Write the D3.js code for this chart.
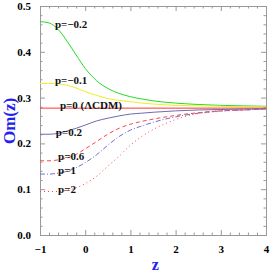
<!DOCTYPE html>
<html>
<head>
<meta charset="utf-8">
<script src="https://cdn.jsdelivr.net/npm/d3@7"></script>
<style>
  body { margin: 0; background: #fff; }
  svg { display: block; }
</style>
</head>
<body>
<svg id="chart"></svg>
<script>
const zs = [-1, -0.8, -0.6, -0.4, -0.2, 0, 0.25, 0.5, 0.75, 1, 1.25, 1.5, 2, 2.5, 3, 3.5, 4];

// Om(z) for each p
const om_m02 = [0.466, 0.463, 0.449, 0.423, 0.393, 0.364, 0.337, 0.320, 0.309, 0.302, 0.297, 0.293, 0.288, 0.285, 0.283, 0.282, 0.281];
const om_m01 = [0.331, 0.331, 0.330, 0.327, 0.321, 0.313, 0.305, 0.298, 0.294, 0.291, 0.288, 0.286, 0.283, 0.282, 0.281, 0.280, 0.280];
const om_0   = [0.277, 0.277, 0.277, 0.277, 0.277, 0.277, 0.277, 0.277, 0.277, 0.277, 0.277, 0.277, 0.277, 0.277, 0.277, 0.277, 0.277];
const om_02  = [0.220, 0.220, 0.222, 0.227, 0.233, 0.240, 0.249, 0.255, 0.260, 0.264, 0.266, 0.268, 0.271, 0.273, 0.274, 0.275, 0.276];
const om_06  = [0.162, 0.162, 0.164, 0.168, 0.176, 0.188, 0.204, 0.220, 0.233, 0.242, 0.248, 0.253, 0.261, 0.267, 0.271, 0.273, 0.275];
const om_1   = [0.133, 0.133, 0.135, 0.139, 0.147, 0.158, 0.175, 0.196, 0.215, 0.229, 0.238, 0.246, 0.258, 0.266, 0.271, 0.273, 0.275];
const om_2   = [0.095, 0.095, 0.095, 0.098, 0.103, 0.112, 0.128, 0.150, 0.172, 0.196, 0.215, 0.230, 0.252, 0.265, 0.270, 0.273, 0.275];

const seriesNames = ["p=\u22120.2", "p=\u22120.1", "p=0 (\u039BCDM)", "p=0.2", "p=0.6", "p=1", "p=2"];
const seriesValues = [om_m02, om_m01, om_0, om_02, om_06, om_1, om_2];
const seriesColors = ["#22dd22", "#eeee22", "#ff3333", "#6b6bb5", "#ff4444", "#7070cc", "#ff4444"];
const seriesDash = [null, null, null, null, "4,3", "5,2,1,2", "1,3"];

// label anchors (z, Om) for each series
const labelZ = [-0.67, -0.67, -0.56, -0.65, -0.60, -0.60, -0.60];
const labelOm = [0.451, 0.330, 0.276, 0.216, 0.164, 0.133, 0.092];

const xTicks = [-1, 0, 1, 2, 3, 4];
const yTicks = [0.0, 0.1, 0.2, 0.3, 0.4, 0.5];

const width = 273;
const height = 275;
const marginTop = 6;
const marginRight = 7;
const marginBottom = 40;
const marginLeft = 40;

const svg = d3.select("#chart")
    .attr("width", width)
    .attr("height", height);

const x = d3.scaleLinear()
    .domain([-1, 4])
    .range([marginLeft, width - marginRight]);

const y = d3.scaleLinear()
    .domain([0, 0.5])
    .range([height - marginBottom, marginTop]);

const frameColor = "#999";
const xMinor = d3.range(-1, 4.001, 0.2).filter(v => Math.abs(v - Math.round(v)) > 1e-6);
const yMinor = d3.range(0, 0.5001, 0.02).filter(v => Math.abs(v * 10 - Math.round(v * 10)) > 1e-6);

function styleAxis(g, labels) {
    g.select(".domain").attr("stroke", frameColor);
    g.selectAll(".tick line").attr("stroke", frameColor);
    if (labels) {
        g.selectAll(".tick text")
            .attr("fill", "#000")
            .attr("font-family", "'Liberation Serif', 'DejaVu Serif', serif")
            .attr("font-weight", "bold")
            .attr("font-size", "11px");
    }
}

// bottom axis
svg.append("g")
    .attr("transform", `translate(0,${y(0)})`)
    .call(d3.axisBottom(x).tickValues(xTicks).tickSize(-5).tickPadding(10)
        .tickFormat(d => d < 0 ? "\u2212" + Math.abs(d) : d))
    .call(g => styleAxis(g, true));
svg.append("g")
    .attr("transform", `translate(0,${y(0)})`)
    .call(d3.axisBottom(x).tickValues(xMinor).tickSize(-2.5).tickFormat(""))
    .call(g => styleAxis(g, false));

// top axis
svg.append("g")
    .attr("transform", `translate(0,${y(0.5)})`)
    .call(d3.axisTop(x).tickValues(xTicks).tickSize(-5).tickFormat(""))
    .call(g => styleAxis(g, false));
svg.append("g")
    .attr("transform", `translate(0,${y(0.5)})`)
    .call(d3.axisTop(x).tickValues(xMinor).tickSize(-2.5).tickFormat(""))
    .call(g => styleAxis(g, false));

// left axis
svg.append("g")
    .attr("transform", `translate(${x(-1)},0)`)
    .call(d3.axisLeft(y).tickValues(yTicks).tickSize(-5).tickPadding(9).tickFormat(d3.format(".1f")))
    .call(g => styleAxis(g, true));
svg.append("g")
    .attr("transform", `translate(${x(-1)},0)`)
    .call(d3.axisLeft(y).tickValues(yMinor).tickSize(-2.5).tickFormat(""))
    .call(g => styleAxis(g, false));

// right axis
svg.append("g")
    .attr("transform", `translate(${x(4)},0)`)
    .call(d3.axisRight(y).tickValues(yTicks).tickSize(-5).tickFormat(""))
    .call(g => styleAxis(g, false));
svg.append("g")
    .attr("transform", `translate(${x(4)},0)`)
    .call(d3.axisRight(y).tickValues(yMinor).tickSize(-2.5).tickFormat(""))
    .call(g => styleAxis(g, false));

// curves
const line = d3.line()
    .x((d, i) => x(zs[i]))
    .y(d => y(d))
    .curve(d3.curveMonotoneX);

svg.append("g")
    .attr("fill", "none")
    .attr("stroke-width", 1)
    .selectAll("path")
    .data(seriesValues)
    .join("path")
    .attr("stroke", (d, i) => seriesColors[i])
    .attr("stroke-dasharray", (d, i) => seriesDash[i])
    .attr("d", line);

// curve labels
svg.append("g")
    .selectAll("text")
    .data(seriesNames)
    .join("text")
    .attr("x", (d, i) => x(labelZ[i]))
    .attr("y", (d, i) => y(labelOm[i]))
    .attr("font-family", "'Liberation Serif', 'DejaVu Serif', serif")
    .attr("font-weight", "bold")
    .attr("font-size", "11px")
    .attr("fill", "#111")
    .text(d => d);

// axis titles
svg.append("text")
    .attr("x", x(1.55))
    .attr("y", 270)
    .attr("text-anchor", "middle")
    .attr("font-family", "'Liberation Serif', 'DejaVu Serif', serif")
    .attr("font-weight", "bold")
    .attr("font-size", "16px")
    .attr("fill", "#2222ee")
    .text("z");

svg.append("text")
    .attr("transform", `translate(15,${y(0.249)}) rotate(-90)`)
    .attr("text-anchor", "middle")
    .attr("font-family", "'Liberation Serif', 'DejaVu Serif', serif")
    .attr("font-weight", "bold")
    .attr("font-size", "17px")
    .attr("fill", "#2222ee")
    .text("Om(z)");
</script>
</body>
</html>
